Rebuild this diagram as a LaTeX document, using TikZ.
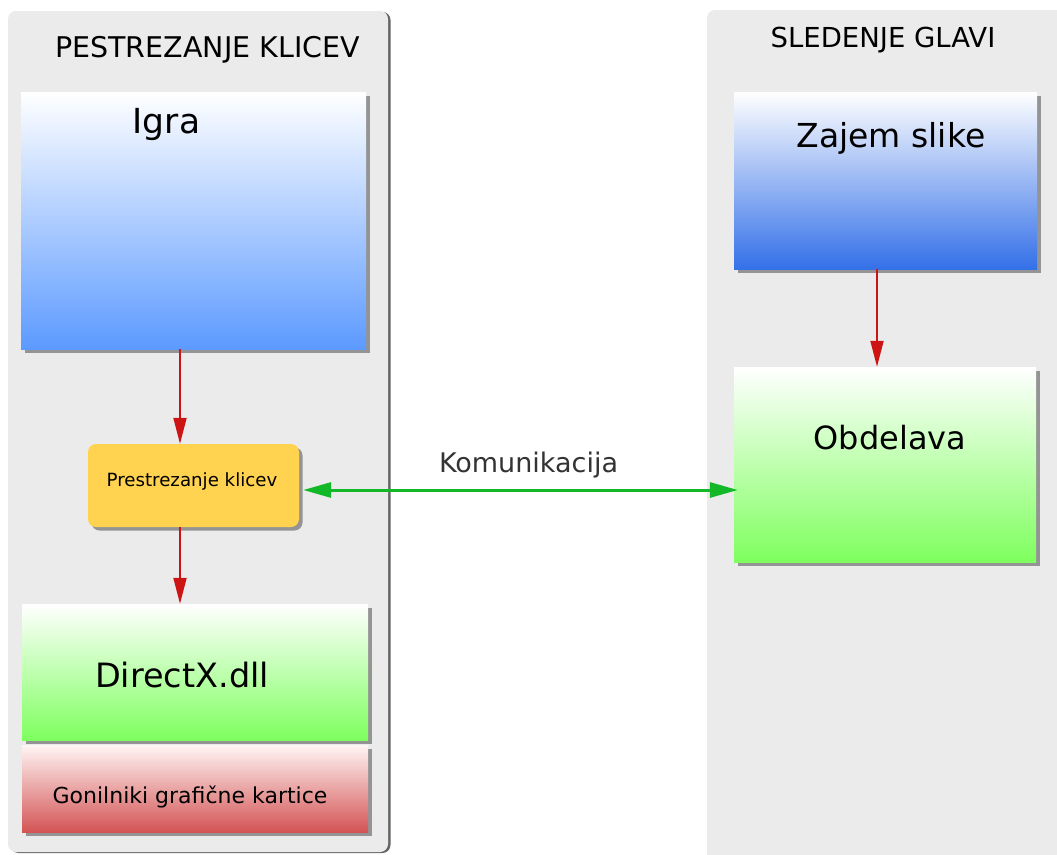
\documentclass[tikz,border=0pt]{standalone}
\usepackage{fontspec}
\setmainfont{DejaVu Sans}
\definecolor{panelgray}{RGB}{235, 235, 235}
\definecolor{gameblue}{RGB}{92, 154, 255}
\definecolor{capblue}{RGB}{52, 112, 232}
\definecolor{procgreen}{RGB}{126, 255, 94}
\definecolor{drvred}{RGB}{212, 84, 84}
\definecolor{hookyellow}{RGB}{255, 210, 79}
\definecolor{flowred}{RGB}{204, 20, 20}
\definecolor{linkgreen}{RGB}{18, 184, 40}
\definecolor{labelgray}{RGB}{51, 51, 51}
\usetikzlibrary{arrows.meta, positioning, shadows}
\tikzset{
  panel/.style={fill=panelgray, rounded corners=8pt, inner sep=0pt,
    drop shadow={shadow xshift=2.5pt, shadow yshift=-1pt, fill=black!75, opacity=.8}},
  layer/.style={inner sep=0pt, top color=white,
    drop shadow={shadow xshift=3.5pt, shadow yshift=-3.5pt, fill=black!60, opacity=.65}},
  caption/.style={anchor=base, inner sep=0pt},
  flow/.style={draw=flowred, line width=2pt, -{Triangle[length=26pt, width=13pt]}},
  link/.style={draw=linkgreen, line width=3pt, {Triangle[length=28pt, width=15pt]}-{Triangle[length=28pt, width=15pt]}}
}

\begin{document}
\begin{tikzpicture}[x=1pt, y=-1pt]
  \useasboundingbox (0,0) rectangle (1057,854);
  \clip (0,0) rectangle (1057,854);

  % Panels
  \node[panel, minimum width=380pt, minimum height=841pt] (hookPanel) at (198, 431.5) {};
  \node[panel, minimum width=370pt, minimum height=880pt] (trackPanel) at (892, 450) {};
  \node[caption, font=\fontsize{28.5}{34}\selectfont] (hookTitle) at (207.5, 57) {PESTREZANJE KLICEV};
  \node[caption, font=\fontsize{27.5}{32}\selectfont] (trackTitle) at (883, 47) {SLEDENJE GLAVI};

  % Left column
  \node[layer, bottom color=gameblue, minimum width=345pt, minimum height=257pt] (igra) at (193.5, 220.5) {};
  \node[caption, font=\fontsize{34.5}{40}\selectfont] (igraText) at (166.5, 133) {Igra};

  \node[fill=hookyellow, rounded corners=8pt, minimum width=211pt, minimum height=83pt, inner sep=0pt,
    drop shadow={shadow xshift=3.5pt, shadow yshift=-3.5pt, fill=black!60, opacity=.65}] (hook) at (193.5, 485.5) {};
  \node[caption, font=\fontsize{18.2}{22}\selectfont] (hookText) at (192, 486) {Prestrezanje klicev};

  \node[layer, bottom color=procgreen, minimum width=346pt, minimum height=136pt] (directx) at (195, 672) {};
  \node[caption, font=\fontsize{33.5}{40}\selectfont] (directxText) at (182, 687) {DirectX.dll};

  \node[layer, top color=red!4, bottom color=drvred, minimum width=346pt, minimum height=87pt] (driver) at (195, 788.5) {};
  \node[caption, font=\fontsize{22}{26}\selectfont] (driverText) at (190, 803) {Gonilniki grafične kartice};

  % Right column
  \node[layer, bottom color=capblue, minimum width=303pt, minimum height=177pt] (capture) at (885.5, 180.5) {};
  \node[caption, font=\fontsize{33}{39}\selectfont] (captureText) at (891, 147) {Zajem slike};

  \node[layer, bottom color=procgreen, minimum width=302pt, minimum height=195pt] (proc) at (885, 464.5) {};
  \node[caption, font=\fontsize{32}{37}\selectfont] (procText) at (890, 449) {Obdelava};

  % Connectors
  \draw[flow] ([xshift=-13.5pt]igra.south) -- ([xshift=-13.5pt]hook.north);
  \draw[flow] ([xshift=-13.5pt]hook.south) -- ([xshift=-13.5pt]hook.south |- directx.north);
  \draw[flow] ([xshift=-8.5pt]capture.south) -- ([xshift=-8.5pt]capture.south |- proc.north);
  \draw[link] ([xshift=4pt, yshift=-4.5pt]hook.east) -- ([xshift=4pt, yshift=-4.5pt]hook.east -| proc.west);
  \node[caption, text=labelgray, font=\fontsize{27}{32}\selectfont] (linkText) at (528.5, 472) {Komunikacija};
\end{tikzpicture}
\end{document}
